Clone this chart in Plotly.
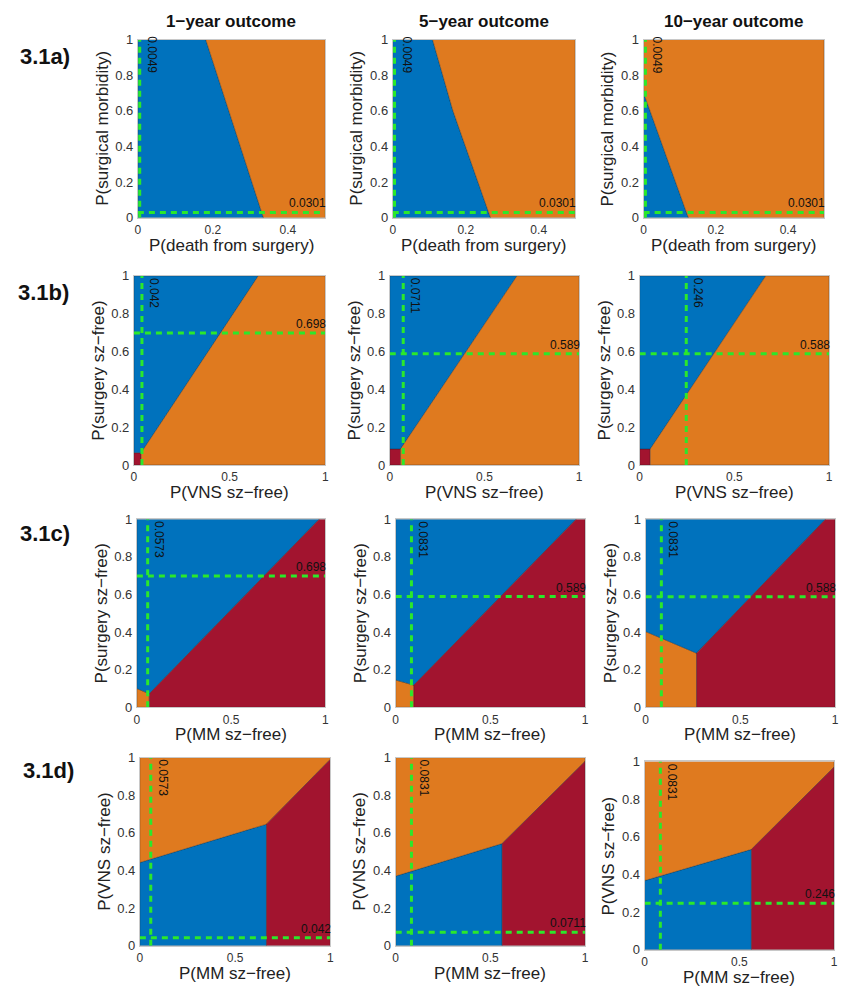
import plotly.graph_objects as go

W, H = 842, 999
BLUE = "#0072BD"
ORANGE = "#DF7A1F"
RED = "#A2142F"
GREEN = "#2BE82B"
FONT = "Liberation Sans, Arial, sans-serif"

# ---------------- text ----------------
col_titles = ["1\u2212year outcome", "5\u2212year outcome", "10\u2212year outcome"]
row_labels = ["3.1a)", "3.1b)", "3.1c)", "3.1d)"]
x_titles = ["P(death from surgery)", "P(VNS sz\u2212free)", "P(MM sz\u2212free)", "P(MM sz\u2212free)"]
y_titles = ["P(surgical morbidity)", "P(surgery sz\u2212free)", "P(surgery sz\u2212free)", "P(VNS sz\u2212free)"]

# ---------------- axes ----------------
x_max = [0.5, 1, 1, 1]
x_ticks_a = [0, 0.2, 0.4]
x_ticks_other = [0, 0.5, 1]
y_ticks = [0, 0.2, 0.4, 0.6, 0.8, 1]
y_tick_text = ["0", "0.2", "0.4", "0.6", "0.8", "1"]

# ---------------- threshold lines ----------------
vline_vals = [[0.0049, 0.0049, 0.0049],
              [0.042, 0.0711, 0.246],
              [0.0573, 0.0831, 0.0831],
              [0.0573, 0.0831, 0.0831]]
vline_text = [["0.0049", "0.0049", "0.0049"],
              ["0.042", "0.0711", "0.246"],
              ["0.0573", "0.0831", "0.0831"],
              ["0.0573", "0.0831", "0.0831"]]
hline_vals = [[0.0301, 0.0301, 0.0301],
              [0.698, 0.589, 0.588],
              [0.698, 0.589, 0.588],
              [0.042, 0.0711, 0.246]]
hline_text = [["0.0301", "0.0301", "0.0301"],
              ["0.698", "0.589", "0.588"],
              ["0.698", "0.589", "0.588"],
              ["0.042", "0.0711", "0.246"]]

# ---------------- regions (polygon vertices) ----------------
# row a
a1_blue_x = [0, 0.335, 0.181, 0]
a1_blue_y = [0, 0, 1, 1]
a1_orange_x = [0.335, 0.5, 0.5, 0.181]
a1_orange_y = [0, 0, 1, 1]

a2_blue_x = [0, 0.268, 0.165, 0.109, 0]
a2_blue_y = [0, 0, 0.6, 1, 1]
a2_orange_x = [0.268, 0.5, 0.5, 0.109, 0.165]
a2_orange_y = [0, 0, 1, 1, 0.6]

a3_blue_x = [0, 0.124, 0]
a3_blue_y = [0, 0, 0.70]
a3_orange_x = [0.124, 0.5, 0.5, 0, 0]
a3_orange_y = [0, 0, 1, 1, 0.70]

# row b
b1_red_x = [0, 0.038, 0.038, 0]
b1_red_y = [0, 0, 0.065, 0.065]
b1_blue_x = [0, 0.038, 0.65, 0]
b1_blue_y = [0.065, 0.065, 1, 1]
b1_orange_x = [0.038, 1, 1, 0.65, 0.038]
b1_orange_y = [0, 0, 1, 1, 0.065]

b2_red_x = [0, 0.057, 0.057, 0]
b2_red_y = [0, 0, 0.085, 0.085]
b2_blue_x = [0, 0.057, 0.672, 0]
b2_blue_y = [0.085, 0.085, 1, 1]
b2_orange_x = [0.057, 1, 1, 0.672, 0.057]
b2_orange_y = [0, 0, 1, 1, 0.085]

b3_red_x = [0, 0.056, 0.056, 0]
b3_red_y = [0, 0, 0.085, 0.085]
b3_blue_x = [0, 0.056, 0.666, 0]
b3_blue_y = [0.085, 0.085, 1, 1]
b3_orange_x = [0.056, 1, 1, 0.666, 0.056]
b3_orange_y = [0, 0, 1, 1, 0.085]

# row c
c1_orange_x = [0, 0.066, 0.066, 0]
c1_orange_y = [0, 0, 0.072, 0.10]
c1_blue_x = [0, 0.066, 0.968, 0]
c1_blue_y = [0.10, 0.072, 1, 1]
c1_red_x = [0.066, 1, 1, 0.968, 0.066]
c1_red_y = [0, 0, 1, 1, 0.072]

c2_orange_x = [0, 0.096, 0.096, 0]
c2_orange_y = [0, 0, 0.118, 0.145]
c2_blue_x = [0, 0.096, 0.953, 0]
c2_blue_y = [0.145, 0.118, 1, 1]
c2_red_x = [0.096, 1, 1, 0.953, 0.096]
c2_red_y = [0, 0, 1, 1, 0.118]

c3_orange_x = [0, 0.269, 0.269, 0]
c3_orange_y = [0, 0, 0.288, 0.403]
c3_blue_x = [0, 0.269, 0.95, 0]
c3_blue_y = [0.403, 0.288, 1, 1]
c3_red_x = [0.269, 1, 1, 0.95, 0.269]
c3_red_y = [0, 0, 1, 1, 0.288]

# row d
d1_blue_x = [0, 0.665, 0.665, 0]
d1_blue_y = [0, 0, 0.646, 0.442]
d1_orange_x = [0, 0.665, 1, 1, 0]
d1_orange_y = [0.442, 0.646, 0.99, 1, 1]
d1_red_x = [0.665, 1, 1, 0.665]
d1_red_y = [0, 0, 0.99, 0.646]

d2_blue_x = [0, 0.562, 0.562, 0]
d2_blue_y = [0, 0, 0.543, 0.37]
d2_orange_x = [0, 0.562, 1, 1, 0]
d2_orange_y = [0.37, 0.543, 0.98, 1, 1]
d2_red_x = [0.562, 1, 1, 0.562]
d2_red_y = [0, 0, 0.98, 0.543]

d3_blue_x = [0, 0.564, 0.564, 0]
d3_blue_y = [0, 0, 0.533, 0.367]
d3_orange_x = [0, 0.564, 1, 1, 0]
d3_orange_y = [0.367, 0.533, 0.97, 1, 1]
d3_red_x = [0.564, 1, 1, 0.564]
d3_red_y = [0, 0, 0.97, 0.533]

regions = [
    [[(a1_blue_x, a1_blue_y, BLUE), (a1_orange_x, a1_orange_y, ORANGE)],
     [(a2_blue_x, a2_blue_y, BLUE), (a2_orange_x, a2_orange_y, ORANGE)],
     [(a3_blue_x, a3_blue_y, BLUE), (a3_orange_x, a3_orange_y, ORANGE)]],
    [[(b1_red_x, b1_red_y, RED), (b1_blue_x, b1_blue_y, BLUE), (b1_orange_x, b1_orange_y, ORANGE)],
     [(b2_red_x, b2_red_y, RED), (b2_blue_x, b2_blue_y, BLUE), (b2_orange_x, b2_orange_y, ORANGE)],
     [(b3_red_x, b3_red_y, RED), (b3_blue_x, b3_blue_y, BLUE), (b3_orange_x, b3_orange_y, ORANGE)]],
    [[(c1_orange_x, c1_orange_y, ORANGE), (c1_blue_x, c1_blue_y, BLUE), (c1_red_x, c1_red_y, RED)],
     [(c2_orange_x, c2_orange_y, ORANGE), (c2_blue_x, c2_blue_y, BLUE), (c2_red_x, c2_red_y, RED)],
     [(c3_orange_x, c3_orange_y, ORANGE), (c3_blue_x, c3_blue_y, BLUE), (c3_red_x, c3_red_y, RED)]],
    [[(d1_blue_x, d1_blue_y, BLUE), (d1_orange_x, d1_orange_y, ORANGE), (d1_red_x, d1_red_y, RED)],
     [(d2_blue_x, d2_blue_y, BLUE), (d2_orange_x, d2_orange_y, ORANGE), (d2_red_x, d2_red_y, RED)],
     [(d3_blue_x, d3_blue_y, BLUE), (d3_orange_x, d3_orange_y, ORANGE), (d3_red_x, d3_red_y, RED)]],
]

# ---------------- panel placement (pixels: left, right, top, bottom) ----------------
panel_px = [
    [(136, 325, 33, 214), (393, 577, 33, 214), (646, 828, 33, 214)],
    [(132, 325, 273, 465), (390, 581, 273, 465), (642, 833, 273, 465)],
    [(135, 325, 520, 711), (396, 587, 520, 711), (648, 839, 520, 711)],
    [(138, 330, 762, 953), (396, 587, 762, 953), (647, 838, 766, 957)],
]
row_label_px = [(15, 50), (13, 290), (15, 535), (18, 775)]
col_title_x = [230, 485, 737]

fig = go.Figure()
layout = dict(width=W, height=H, margin=dict(l=0, r=0, t=0, b=0, pad=0),
              autosize=False,
              paper_bgcolor="white", plot_bgcolor="white", showlegend=False,
              font=dict(family=FONT, color="#222"))
annotations = []


def px2x(p):
    return p / W


def px2y(p):
    return 1 - p / H


for r in range(4):
    for c in range(3):
        k = r * 3 + c
        sfx = "" if k == 0 else str(k + 1)
        xa, ya = "x" + sfx, "y" + sfx
        L, R, T, B = panel_px[r][c]
        xm = x_max[r]
        for xs, ys, col in regions[r][c]:
            fig.add_trace(go.Scatter(x=xs + [xs[0]], y=ys + [ys[0]], mode="lines",
                                     fill="toself", fillcolor=col,
                                     line=dict(color="rgba(30,30,30,0.55)", width=0.6),
                                     xaxis=xa, yaxis=ya, hoverinfo="skip"))
        v = vline_vals[r][c]
        h = hline_vals[r][c]
        fig.add_trace(go.Scatter(x=[v, v], y=[0, 1], mode="lines",
                                 line=dict(color=GREEN, width=3, dash="6px,5px"),
                                 xaxis=xa, yaxis=ya, hoverinfo="skip"))
        fig.add_trace(go.Scatter(x=[0, xm], y=[h, h], mode="lines",
                                 line=dict(color=GREEN, width=3, dash="6px,5px"),
                                 xaxis=xa, yaxis=ya, hoverinfo="skip"))
        annotations.append(dict(x=v, y=1, xref=xa, yref=ya, text=vline_text[r][c],
                                textangle=90, xanchor="left", yanchor="top",
                                xshift=3, yshift=5 if r == 0 else 0, showarrow=False,
                                font=dict(size=12, color="#111")))
        annotations.append(dict(x=xm, y=h, xref=xa, yref=ya, text=hline_text[r][c],
                                xanchor="right", yanchor="bottom", xshift=3, yshift=0,
                                showarrow=False, font=dict(size=12, color="#111")))
        xticks = x_ticks_a if r == 0 else x_ticks_other
        layout["xaxis" + sfx] = dict(domain=[px2x(L), px2x(R)], range=[0, xm],
                                     anchor=ya, tickvals=xticks,
                                     ticktext=[("%g" % t) for t in xticks],
                                     showgrid=False, zeroline=False, showline=True,
                                     mirror=True, linecolor="#c8c8c8", linewidth=1,
                                     ticks="outside", ticklen=1, tickcolor="rgba(0,0,0,0)",
                                     tickfont=dict(size=12, color="#333"), fixedrange=True)
        layout["yaxis" + sfx] = dict(domain=[px2y(B), px2y(T)], range=[0, 1],
                                     anchor=xa, tickvals=y_ticks, ticktext=y_tick_text,
                                     showgrid=False, zeroline=False, showline=True,
                                     mirror=True, linecolor="#c8c8c8", linewidth=1,
                                     ticks="outside", ticklen=1, tickcolor="rgba(0,0,0,0)",
                                     tickfont=dict(size=13, color="#333"), fixedrange=True)
        annotations.append(dict(x=px2x((L + R) / 2), y=px2y(B + 28), xref="paper", yref="paper",
                                text=x_titles[r], showarrow=False, xanchor="center",
                                yanchor="middle", font=dict(size=17, color="#222")))
        annotations.append(dict(x=px2x(L - 36), y=px2y((T + B) / 2), xref="paper", yref="paper",
                                text=y_titles[r], showarrow=False, textangle=-90,
                                xanchor="center", yanchor="middle",
                                font=dict(size=17, color="#222")))

for c in range(3):
    annotations.append(dict(x=px2x(col_title_x[c]), y=px2y(15), xref="paper", yref="paper",
                            text="<b>" + col_titles[c] + "</b>", showarrow=False,
                            xanchor="center", yanchor="middle",
                            font=dict(size=17, color="#111")))
for r in range(4):
    lx, ly = row_label_px[r]
    annotations.append(dict(x=px2x(lx), y=px2y(ly), xref="paper", yref="paper",
                            text="<b>" + row_labels[r] + "</b>", showarrow=False,
                            xanchor="left", yanchor="middle",
                            font=dict(size=22, color="#111")))

layout["annotations"] = annotations
fig.update_layout(**layout)
fig.write_html("out.html",
               config={"displayModeBar": False},
               post_script="document.body.style.margin='0';"
                           "document.body.style.padding='0';"
                           "document.documentElement.style.overflow='hidden';")
